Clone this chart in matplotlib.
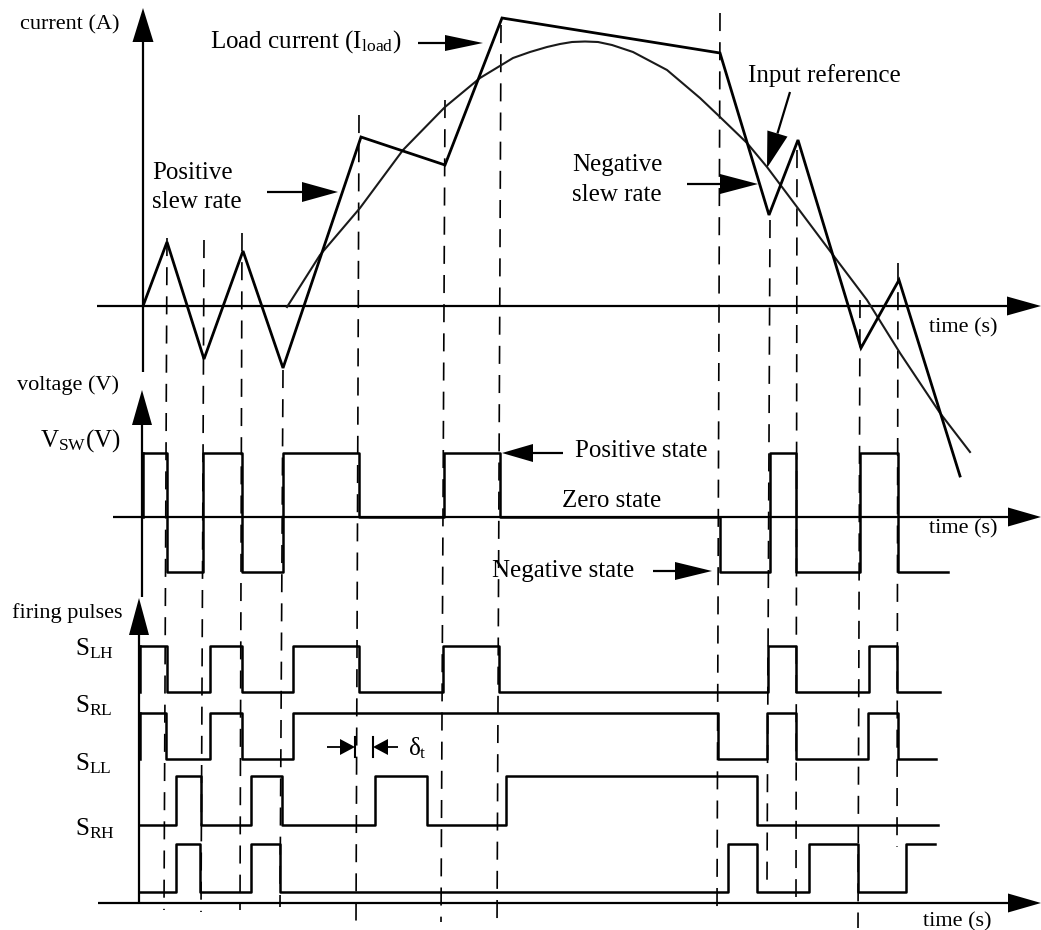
import numpy as np
import matplotlib.pyplot as plt
from matplotlib.patches import Polygon

plt.rcParams['font.family'] = ['Liberation Serif', 'DejaVu Serif']
plt.rcParams['mathtext.fontset'] = 'custom'
plt.rcParams['mathtext.rm'] = 'Liberation Serif'
plt.rcParams['mathtext.it'] = 'Liberation Serif:italic'
plt.rcParams['lines.scale_dashes'] = False

# switching instants (top / bottom ends of the dashed guides, slightly skewed)
t_sw_top = [167, 204, 242, 283, 359, 445, 501, 720, 770, 797, 860, 898]
t_sw_bot = [164, 201, 240, 280, 356, 441, 497, 717, 767, 796, 858, 897]
dash_top = [238, 240, 233, 370, 115, 100, 25, 13, 220, 150, 300, 263]
dash_bot = [910, 912, 910, 907, 922, 922, 928, 912, 883, 897, 928, 847]

# load current (piecewise linear) and input reference
il_t = [143, 167, 204, 243, 283, 361, 445, 502, 720, 769, 798, 861, 899, 960]
il_v = [306, 242, 359, 251, 368, 137, 165, 18, 53, 215, 140, 348, 280, 476]
ref_t = [287, 320, 360, 403, 445, 480, 513, 530, 547, 560, 572, 585, 598,
         612, 633, 667, 700, 720, 747, 767, 797, 833, 867, 900, 940, 970]
ref_v = [307, 255, 208, 150, 107, 78, 58, 52, 47, 44, 42, 41.5, 42,
         45, 52, 70, 98, 117, 143, 167, 207, 255, 300, 353, 413, 452]

# switch voltage: +1 / 0 / -1 states
vsw_t = [143, 167, 203, 242, 283, 359, 444, 500, 720, 770, 796, 860, 898, 948]
vsw_s = [1, -1, 1, -1, 1, 0, 1, 0, -1, 1, -1, 1, -1, -1]
v_levels = {1: 453, 0: 517, -1: 572}

# firing pulses: edge times and state after each edge
gates = {
    'LH': ([140, 167, 210, 242, 293, 359, 443, 499, 768, 796, 869, 897, 940],
           [1, 0, 1, 0, 1, 0, 1, 0, 1, 0, 1, 0, 0], (646, 692)),
    'RL': ([140, 166, 210, 242, 293, 718, 767, 796, 868, 898, 936],
           [1, 0, 1, 0, 1, 0, 1, 0, 1, 0, 0], (713, 759)),
    'LL': ([140, 176, 201, 251, 282, 375, 427, 506, 757, 938],
           [0, 1, 0, 1, 0, 1, 0, 1, 0, 0], (776, 825)),
    'RH': ([140, 176, 200, 251, 280, 728, 757, 809, 858, 906, 935],
           [0, 1, 0, 1, 0, 1, 0, 1, 0, 1, 1], (844, 892)),
}
gate_label_y = {'LH': 655, 'RL': 712, 'LL': 770, 'RH': 835}


def arrow(ax, x0, y0, x1, y1, hl=34, hw=20, lw=1.6):
    d = np.array([x1 - x0, y1 - y0], dtype=float)
    L = np.hypot(*d)
    u = d / L
    n = np.array([-u[1], u[0]])
    base = np.array([x1, y1]) - u * hl
    ax.plot([x0, base[0]], [y0, base[1]], color='black', lw=lw,
            solid_capstyle='butt')
    tri = [[x1, y1], base + n * hw / 2, base - n * hw / 2]
    ax.add_patch(Polygon(tri, closed=True, color='black', lw=0))


fig = plt.figure(figsize=(10.41, 9.30), dpi=100)
ax = fig.add_axes([0, 0, 1, 1])
ax.set_xlim(0, 1041)
ax.set_ylim(930, 0)
ax.axis('off')

# axes of the three panels
arrow(ax, 143, 372, 143, 8, hl=34, hw=21)
arrow(ax, 97, 306, 1041, 306, hl=34, hw=19)
arrow(ax, 142, 597, 142, 390, hl=35, hw=20)
arrow(ax, 113, 517, 1041, 517, hl=33, hw=19)
arrow(ax, 139, 902, 139, 598, hl=37, hw=20)
arrow(ax, 98, 903, 1041, 903, hl=33, hw=19)

# dashed switching guides
for xt, xb, yt, yb in zip(t_sw_top, t_sw_bot, dash_top, dash_bot):
    ax.plot([xt, xb], [yt, yb], color='black', lw=1.2, ls=(0, (13, 8)))

# current panel
ax.plot(ref_t, ref_v, color='#1a1a1a', lw=1.5)
ax.plot(il_t, il_v, color='black', lw=2.0, solid_joinstyle='miter')

# voltage panel
ax.step(vsw_t, [v_levels[s] for s in vsw_s], where='post', color='black', lw=1.8)
ax.plot([143, 143], [v_levels[0], v_levels[1]], color='black', lw=1.8)

# firing pulses
for name, (t, s, (hi, lo)) in gates.items():
    y = [hi if v else lo for v in s]
    ax.step(t, y, where='post', color='black', lw=1.8)
    if s[0]:
        ax.plot([t[0], t[0]], [lo, hi], color='black', lw=1.8)
    ax.text(75, gate_label_y[name], r'S$_{\rm %s}$' % name, fontsize=18,
            va='baseline')

# labels
ax.text(20, 25, 'current (A)', fontsize=16, va='center')
ax.text(17, 385, 'voltage (V)', fontsize=16, va='center')
ax.text(12, 618, 'firing pulses', fontsize=16, va='baseline')
ax.text(40, 447, r'V$_{\rm SW}$(V)', fontsize=18, va='baseline')
for y in (332, 533):
    ax.text(929, y, 'time (s)', fontsize=16, va='baseline')
ax.text(923, 926, 'time (s)', fontsize=16, va='baseline')

ax.text(210, 48, r'Load current (I$_{\rm load}$)', fontsize=18, va='baseline')
arrow(ax, 418, 43, 483, 43, hl=38, hw=16)

ax.text(152, 179, 'Positive', fontsize=18, va='baseline')
ax.text(152, 208, 'slew rate', fontsize=18, va='baseline')
arrow(ax, 267, 192, 338, 192, hl=36, hw=20)

ax.text(572, 171, 'Negative', fontsize=18, va='baseline')
ax.text(572, 201, 'slew rate', fontsize=18, va='baseline')
arrow(ax, 687, 184, 758, 184, hl=38, hw=20)

ax.text(748, 82, 'Input reference', fontsize=18, va='baseline')
arrow(ax, 790, 92, 767, 168, hl=36, hw=21)

ax.text(575, 457, 'Positive state', fontsize=18, va='baseline')
arrow(ax, 563, 453, 502, 453, hl=31, hw=18)
ax.text(562, 507, 'Zero state', fontsize=18, va='baseline')
ax.text(492, 577, 'Negative state', fontsize=18, va='baseline')
arrow(ax, 653, 571, 712, 571, hl=37, hw=18)

# dead time marker
arrow(ax, 327, 747, 355, 747, hl=15, hw=16, lw=1.3)
ax.plot([355, 355], [737, 757], color='black', lw=1.5)
arrow(ax, 398, 747, 373, 747, hl=15, hw=16, lw=1.3)
ax.plot([373, 373], [737, 757], color='black', lw=1.5)
ax.text(408, 755, 'δ$_{\\rm t}$', fontsize=18, va='baseline')

fig.savefig('out.png', dpi=100)
